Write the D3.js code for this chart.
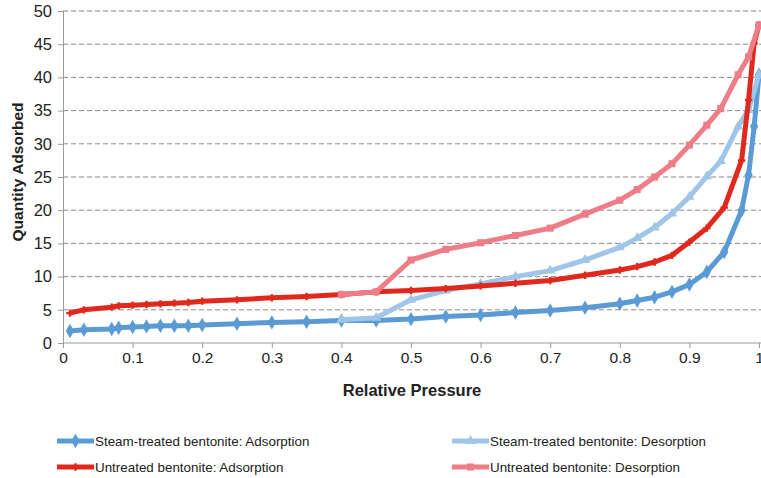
<!DOCTYPE html>
<html>
<head>
<meta charset="utf-8">
<script src="https://cdn.jsdelivr.net/npm/d3@7"></script>
<style>
  body { margin: 0; background: #fff; }
  text { font-family: "Liberation Sans", Arial, sans-serif; fill: #222; }
</style>
</head>
<body>
<script>
// relative pressure points of the adsorption branch
var adsPressure = [0.01, 0.03, 0.07, 0.08, 0.1, 0.12, 0.14, 0.16, 0.18, 0.2, 0.25, 0.3, 0.35, 0.4,
                   0.45, 0.5, 0.55, 0.6, 0.65, 0.7, 0.75, 0.8, 0.825, 0.85, 0.875, 0.9, 0.925,
                   0.95, 0.975, 0.985, 0.993, 1.0];
// relative pressure points of the desorption branch
var desPressure = [1.0, 0.985, 0.97, 0.945, 0.925, 0.9, 0.875, 0.85, 0.825, 0.8, 0.75, 0.7,
                   0.65, 0.6, 0.55, 0.5, 0.45, 0.4];

var steamAds = [1.8, 2.0, 2.1, 2.3, 2.4, 2.5, 2.6, 2.6, 2.6, 2.7, 2.9, 3.1, 3.2, 3.4,
                3.4, 3.6, 4.0, 4.2, 4.6, 4.9, 5.3, 5.9, 6.4, 6.9, 7.7, 8.8, 10.7,
                13.7, 20.0, 25.3, 32.6, 40.4];
var steamDes = [40.4, 35.1, 32.6, 27.4, 25.1, 22.0, 19.5, 17.4, 15.8, 14.4, 12.5, 10.9,
                10.0, 8.9, 7.9, 6.5, 3.8, 3.5];
var untreatedAds = [4.5, 5.0, 5.4, 5.6, 5.7, 5.8, 5.9, 6.0, 6.1, 6.3, 6.5, 6.8, 7.0, 7.3,
                    7.7, 7.9, 8.2, 8.6, 9.0, 9.4, 10.2, 11.0, 11.5, 12.2, 13.2, 15.2, 17.3,
                    20.4, 27.5, 36.6, 45.1, 47.9];
var untreatedDes = [47.9, 43.1, 40.4, 35.3, 32.8, 29.8, 27.0, 25.0, 23.1, 21.5, 19.4, 17.3,
                    16.2, 15.1, 14.1, 12.5, 7.7, 7.3];

var seriesNames = ["Steam-treated bentonite: Adsorption", "Steam-treated bentonite: Desorption",
                   "Untreated bentonite: Adsorption", "Untreated bentonite: Desorption"];
var xTicks = [0, 0.1, 0.2, 0.3, 0.4, 0.5, 0.6, 0.7, 0.8, 0.9, 1];
var yTicks = [0, 5, 10, 15, 20, 25, 30, 35, 40, 45, 50];

// series drawn in the order of the legend, later ones on top
var series = [
  {name: seriesNames[0], x: adsPressure, y: steamAds, color: "#5b9bd5", symbol: d3.symbolDiamond, size: 60},
  {name: seriesNames[1], x: desPressure, y: steamDes, color: "#9fc5e8", symbol: d3.symbolTriangle, size: 45},
  {name: seriesNames[2], x: adsPressure, y: untreatedAds, color: "#e0291c", symbol: d3.symbolCross, size: 30},
  {name: seriesNames[3], x: desPressure, y: untreatedDes, color: "#ee7d88", symbol: d3.symbolSquare, size: 50}
];

var width = 761, height = 478;
var svg = d3.select("body").append("svg")
            .attr("width", width)
            .attr("height", height);

var xScale = d3.scaleLinear().domain([0, 1]).range([63, 759]);
var yScale = d3.scaleLinear().domain([0, 50]).range([343, 11]);

// dashed grid lines
svg.append("g")
   .selectAll("line")
   .data(yTicks.slice(1))
   .enter()
   .append("line")
   .attr("x1", xScale(0))
   .attr("x2", width)
   .attr("y1", function(d) { return yScale(d); })
   .attr("y2", function(d) { return yScale(d); })
   .attr("stroke", "#8a8a8a")
   .attr("stroke-width", 1)
   .attr("stroke-dasharray", "5,3");

// y axis
var yAxis = svg.append("g")
   .attr("transform", "translate(" + xScale(0) + ",0)")
   .call(d3.axisLeft(yScale).tickValues(yTicks).tickSize(5).tickPadding(6).tickFormat(d3.format("d")));
yAxis.select(".domain").attr("stroke", "#999");
yAxis.selectAll(".tick line").attr("stroke", "#999");
yAxis.selectAll("text").style("font-size", "16.5px").attr("fill", "#222");

// x axis
var xAxis = svg.append("g")
   .attr("transform", "translate(0," + yScale(0) + ")")
   .call(d3.axisBottom(xScale).tickValues(xTicks).tickSize(5).tickPadding(4).tickFormat(function(d) { return d3.format("")(d); }));
xAxis.select(".domain").attr("stroke", "#999").attr("d", "M" + xScale(0) + ",0H" + width);
xAxis.selectAll(".tick line").attr("stroke", "#999");
xAxis.selectAll("text").style("font-size", "15.5px").attr("fill", "#222");

// axis titles
svg.append("text")
   .attr("text-anchor", "middle")
   .attr("x", 412)
   .attr("y", 396)
   .style("font-size", "16.5px")
   .style("font-weight", "bold")
   .text("Relative Pressure");

svg.append("text")
   .attr("text-anchor", "middle")
   .attr("transform", "translate(23,172)rotate(-90)")
   .style("font-size", "15.5px")
   .style("font-weight", "bold")
   .text("Quantity Adsorbed");

var line = d3.line()
             .x(function(d) { return xScale(d[0]); })
             .y(function(d) { return yScale(d[1]); });

series.forEach(function(s) {
  var pts = s.x.map(function(p, i) { return [p, s.y[i]]; });
  svg.append("path")
     .datum(pts)
     .attr("d", line)
     .attr("fill", "none")
     .attr("stroke", s.color)
     .attr("stroke-width", 5)
     .attr("stroke-linejoin", "round");
  svg.append("g")
     .selectAll("path")
     .data(pts)
     .enter()
     .append("path")
     .attr("d", d3.symbol().type(s.symbol).size(s.size))
     .attr("transform", function(d) { return "translate(" + xScale(d[0]) + "," + yScale(d[1]) + ")"; })
     .attr("fill", s.color);
});

// legend, two columns
var legendPos = [[57, 441], [452, 441], [57, 467], [452, 467]];
series.forEach(function(s, i) {
  var g = svg.append("g").attr("transform", "translate(" + legendPos[i][0] + "," + legendPos[i][1] + ")");
  g.append("line")
   .attr("x1", 0).attr("x2", 37)
   .attr("stroke", s.color)
   .attr("stroke-width", 5);
  g.append("path")
   .attr("d", d3.symbol().type(s.symbol).size(s.size))
   .attr("transform", "translate(18.5,0)")
   .attr("fill", s.color);
  g.append("text")
   .attr("x", 38)
   .attr("y", 5)
   .style("font-size", "13.4px")
   .text(s.name);
});
</script>
</body>
</html>
